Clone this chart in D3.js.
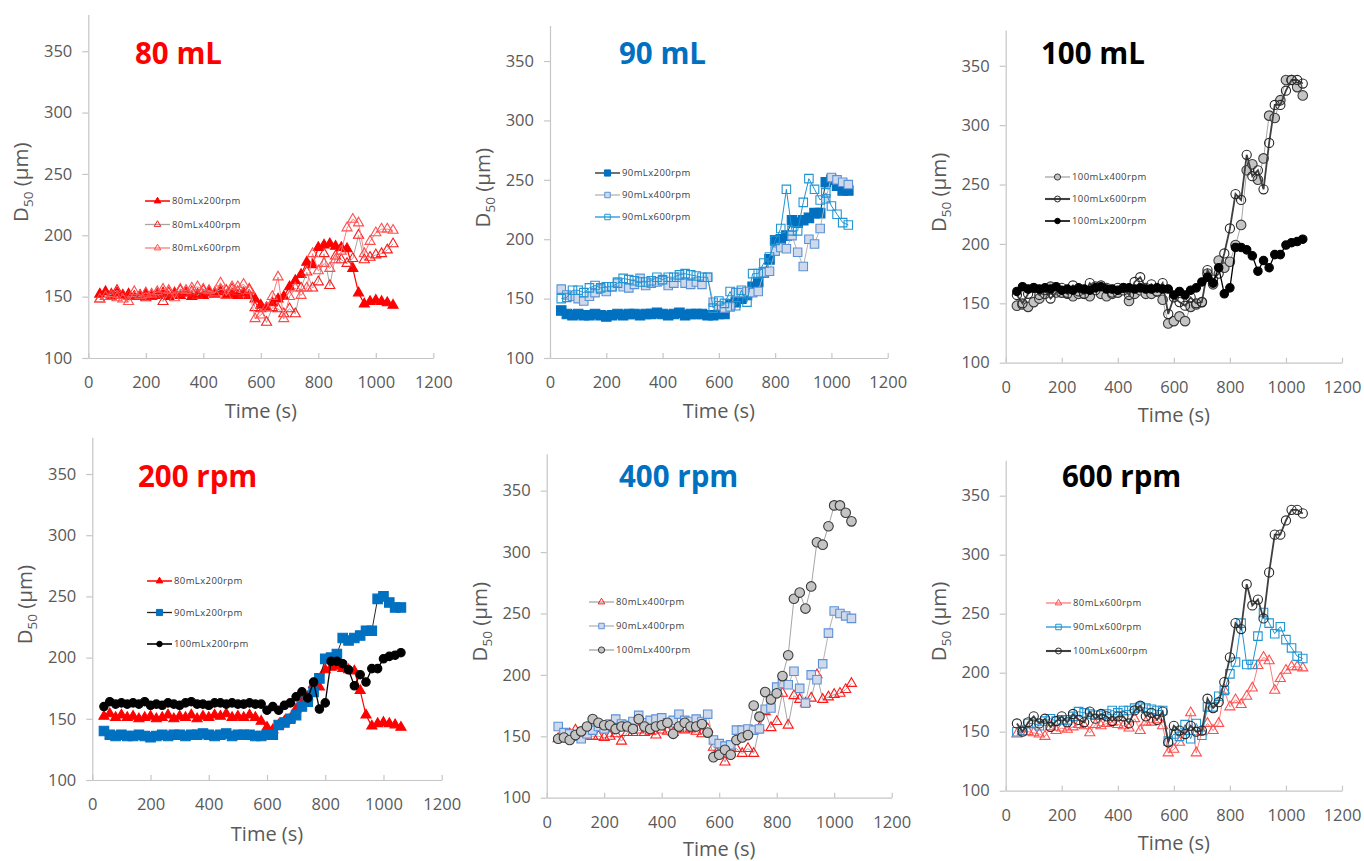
<!DOCTYPE html>
<html>
<head>
<meta charset="utf-8">
<script src="https://cdn.jsdelivr.net/npm/d3@7"></script>
<style>
  body { margin: 0; background: #fff; }
  svg { display: block; }
</style>
</head>
<body>
<svg id="chart" width="1364" height="861"></svg>
<script>
// Sampling times (s)
const times = [40,60,80,100,120,140,160,180,200,220,240,260,280,300,320,340,360,380,400,420,440,460,480,500,520,540,560,
               580,600,620,640,660,680,700,720,740,760,780,800,820,840,860,880,900,920,940,960,980,1000,1020,1040,1060];

const xTicks = [0,200,400,600,800,1000,1200];
const yTicks = [100,150,200,250,300,350];

// D50 (µm) for each fill volume x stirring speed
const d80x200  = [152,154,151,153,151,152,150,151,152,150,151,153,150,152,151,153,150,152,151,153,152,154,151,152,151,153,151,
                  148,143,141,145,148,150,158,163,168,178,176,190,192,193,191,190,189,173,153,144,146,147,146,145,143];
const d80x400  = [148,150,152,155,151,150,150,150,149,150,152,146,153,153,155,153,154,151,155,154,153,156,155,156,154,152,156,
                  141,140,129,141,140,136,140,136,157,170,157,162,185,159,183,180,177,181,200,180,182,184,185,188,193];
const d80x600  = [148,150,150,149,148,146,154,151,153,152,154,156,155,149,156,155,157,158,156,155,153,161,151,158,158,160,155,
                  132,135,141,150,166,132,150,157,151,157,185,171,177,173,180,187,206,213,210,185,195,202,205,205,204];
const d90x200  = [140,137,136,137,136,136,137,136,135,136,137,136,137,137,136,137,137,138,137,136,137,138,136,137,137,137,136,
                  136,137,137,145,147,150,153,160,164,172,183,199,200,203,216,214,216,218,222,222,248,250,245,241,241];
const d90x400  = [158,153,152,150,148,152,155,158,156,160,164,160,159,162,167,161,163,164,165,161,163,168,163,162,164,162,168,
                  147,144,142,143,155,155,156,155,156,172,173,190,193,192,203,189,177,200,196,209,234,252,250,248,246];
const d90x600  = [150,151,157,157,155,159,161,159,160,160,163,167,166,165,164,164,165,168,166,168,168,170,171,170,169,168,168,
                  142,148,146,156,144,157,147,171,171,180,185,199,209,242,207,207,231,251,242,233,239,228,221,214,212];
const d100x200 = [160,164,162,163,162,163,162,164,161,162,161,163,162,161,163,164,162,162,161,163,163,162,163,162,162,163,162,
                  162,157,160,157,161,163,168,172,167,180,158,163,197,197,195,190,177,186,180,191,191,199,201,202,204];
const d100x400 = [148,149,147,151,154,158,164,161,159,159,156,158,158,156,164,158,156,158,159,161,152,158,161,158,158,160,153,
                  133,135,139,135,147,149,151,175,166,186,180,185,199,216,262,267,254,272,308,306,321,338,338,332,325];
const d100x600 = [157,150,158,163,157,161,154,159,163,158,165,160,158,167,161,165,163,159,163,163,157,168,172,163,166,160,167,
                  141,155,151,148,155,150,151,178,170,175,192,213,242,237,275,257,262,246,285,317,317,329,338,338,335];

const panelTitles = ["80 mL", "90 mL", "100 mL", "200 rpm", "400 rpm", "600 rpm"];
const panelSeries = [
  ["80mLx200rpm", "80mLx400rpm", "80mLx600rpm"],
  ["90mLx200rpm", "90mLx400rpm", "90mLx600rpm"],
  ["100mLx400rpm", "100mLx600rpm", "100mLx200rpm"],
  ["80mLx200rpm", "90mLx200rpm", "100mLx200rpm"],
  ["80mLx400rpm", "90mLx400rpm", "100mLx400rpm"],
  ["80mLx600rpm", "90mLx600rpm", "100mLx600rpm"]
];

const seriesValues = {
  "80mLx200rpm": d80x200, "80mLx400rpm": d80x400, "80mLx600rpm": d80x600,
  "90mLx200rpm": d90x200, "90mLx400rpm": d90x400, "90mLx600rpm": d90x600,
  "100mLx200rpm": d100x200, "100mLx400rpm": d100x400, "100mLx600rpm": d100x600
};

// Line and marker styling per series
const seriesStyle = {
  "80mLx200rpm":  {line: "#ff0000", lw: 1.2, shape: d3.symbolTriangle, size: 44, fill: "#ff0000", stroke: "#ff0000"},
  "80mLx400rpm":  {line: "#a6a6a6", lw: 1.0, shape: d3.symbolTriangle, size: 44, fill: "none",    stroke: "#ff1a1a"},
  "80mLx600rpm":  {line: "#ff7c7c", lw: 1.0, shape: d3.symbolTriangle, size: 44, fill: "none",    stroke: "#ff4d4d"},
  "90mLx200rpm":  {line: "#262626", lw: 1.0, shape: d3.symbolSquare,   size: 90, fill: "#0070c0", stroke: "#0070c0"},
  "90mLx400rpm":  {line: "#b3b3b3", lw: 1.0, shape: d3.symbolSquare,   size: 72, fill: "#cfd9ea", stroke: "#5b91d8"},
  "90mLx600rpm":  {line: "#1f95d3", lw: 1.0, shape: d3.symbolSquare,   size: 72, fill: "none",    stroke: "#1f95d3"},
  "100mLx200rpm": {line: "#000000", lw: 1.3, shape: d3.symbolCircle,   size: 56, fill: "#000000", stroke: "#000000"},
  "100mLx400rpm": {line: "#a6a6a6", lw: 1.0, shape: d3.symbolCircle,   size: 72, fill: "#c4c4c4", stroke: "#3a3a3a"},
  "100mLx600rpm": {line: "#3f3f3f", lw: 1.8, shape: d3.symbolCircle,   size: 66, fill: "none",    stroke: "#262626"}
};

const titleColors = ["#ff0000", "#0070c0", "#000000", "#ff0000", "#0070c0", "#000000"];

// Panel geometry: plot area edges, title, legend and axis-title placement
const layout = [
  {x0: 88.3,   x1: 433.3, yb: 358,   yt: 14.4,  tx: 135,  ty: 64,  lx: 145,  ly: 201, ldy: 23.5, xl: 418},
  {x0: 550,    x1: 887.7, yb: 358,   yt: 25.4,  tx: 619,  ty: 64,  lx: 595,  ly: 173, ldy: 22,   xl: 418},
  {x0: 1005.7, x1: 1342,  yb: 362.7, yt: 30.1,  tx: 1041, ty: 64,  lx: 1045, ly: 177, ldy: 22,   xl: 422},
  {x0: 92.3,   x1: 441.7, yb: 780,   yt: 437.3, tx: 138,  ty: 487, lx: 147,  ly: 581, ldy: 31.5, xl: 841},
  {x0: 546.7,  x1: 891.7, yb: 797.7, yt: 453.8, tx: 619,  ty: 487, lx: 589,  ly: 602, ldy: 24,   xl: 856},
  {x0: 1005.7, x1: 1342,  yb: 790.7, yt: 460.3, tx: 1062, ty: 487, lx: 1046, ly: 603, ldy: 24,   xl: 850}
];

const axisColor = "#c6c6c6";
const labelColor = "#595959";
const fontFamily = "'Open Sans', 'DejaVu Sans', sans-serif";

const svg = d3.select("#chart");

panelTitles.forEach((title, p) => {
  const L = layout[p];
  const g = svg.append("g");

  const x = d3.scaleLinear().domain([0, 1200]).range([L.x0, L.x1]);
  const y = d3.scaleLinear().domain([100, 380]).range([L.yb, L.yt]);

  // x axis: inward ticks, labels well below the axis line
  g.append("g")
    .attr("transform", `translate(0,${L.yb})`)
    .call(d3.axisBottom(x).tickValues(xTicks).tickSizeInner(-5).tickSizeOuter(0).tickFormat(d3.format("d")))
    .call(a => {
      a.select(".domain").attr("stroke", axisColor).attr("stroke-width", 1.2);
      a.selectAll(".tick line").attr("stroke", axisColor).attr("stroke-width", 1.2);
      a.selectAll(".tick text").attr("y", 30).attr("dy", 0)
        .attr("fill", labelColor).attr("font-size", 16.5).attr("font-family", fontFamily);
    });

  // y axis
  g.append("g")
    .attr("transform", `translate(${L.x0},0)`)
    .call(d3.axisLeft(y).tickValues(yTicks).tickSizeInner(6).tickSizeOuter(0).tickPadding(10))
    .call(a => {
      a.select(".domain").attr("stroke", axisColor).attr("stroke-width", 1.2);
      a.selectAll(".tick line").attr("stroke", axisColor).attr("stroke-width", 1.2);
      a.selectAll(".tick text").attr("fill", labelColor).attr("font-size", 16.5).attr("font-family", fontFamily);
    });

  // axis titles
  g.append("text")
    .attr("x", (L.x0 + L.x1) / 2).attr("y", L.xl)
    .attr("text-anchor", "middle")
    .attr("fill", labelColor).attr("font-size", 20).attr("font-family", fontFamily)
    .text("Time (s)");

  const yl = g.append("text")
    .attr("transform", `translate(${L.x0 - 60},${(L.yb + L.yt) / 2 - 4}) rotate(-90)`)
    .attr("text-anchor", "middle")
    .attr("fill", labelColor).attr("font-size", 20.5).attr("font-family", fontFamily);
  yl.append("tspan").text("D");
  yl.append("tspan").attr("font-size", 13.5).attr("dy", 5).text("50");
  yl.append("tspan").attr("dy", -5).text(" (\u03BCm)");

  // panel title
  g.append("text")
    .attr("x", L.tx).attr("y", L.ty)
    .attr("fill", titleColors[p]).attr("font-size", 29.5).attr("font-weight", "bold")
    .attr("font-family", fontFamily)
    .text(title);

  // series
  const line = d3.line().x(d => x(d.t)).y(d => y(d.v));
  panelSeries[p].forEach((name, k) => {
    const st = seriesStyle[name];
    const pts = times.map((t, i) => ({t, v: seriesValues[name][i]}));
    g.append("path").datum(pts)
      .attr("d", line).attr("fill", "none")
      .attr("stroke", st.line).attr("stroke-width", st.lw);
    const sym = d3.symbol().type(st.shape).size(st.size);
    g.append("g").selectAll("path").data(pts).join("path")
      .attr("transform", d => `translate(${x(d.t)},${y(d.v)})`)
      .attr("d", sym)
      .attr("fill", st.fill).attr("stroke", st.stroke).attr("stroke-width", 1.1);

    // legend entry
    const ly = L.ly + k * L.ldy;
    g.append("line")
      .attr("x1", L.lx).attr("x2", L.lx + 25).attr("y1", ly).attr("y2", ly)
      .attr("stroke", st.line).attr("stroke-width", st.lw + 0.3);
    g.append("path")
      .attr("transform", `translate(${L.lx + 12.5},${ly})`)
      .attr("d", d3.symbol().type(st.shape).size(st.size * 0.42))
      .attr("fill", st.fill).attr("stroke", st.stroke).attr("stroke-width", 1);
    g.append("text")
      .attr("x", L.lx + 27).attr("y", ly).attr("dy", "0.35em")
      .attr("fill", "#404040").attr("font-size", 9.5).attr("letter-spacing", 0.4)
      .attr("font-family", fontFamily)
      .text(name);
  });
});
</script>
</body>
</html>
